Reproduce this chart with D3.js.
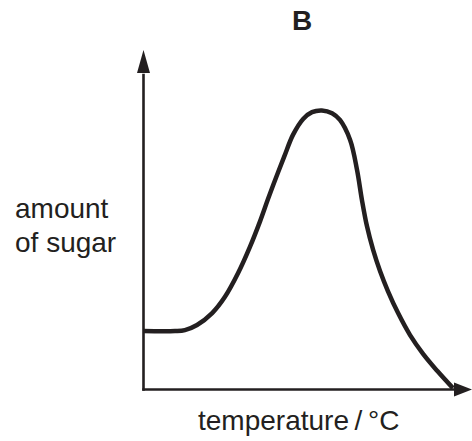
<!DOCTYPE html>
<html>
<head>
<meta charset="utf-8">
<script src="https://cdn.jsdelivr.net/npm/d3@7"></script>
<style>
  html, body { margin: 0; padding: 0; background: #fff; }
  svg { display: block; }
  text { font-family: "Liberation Sans", Arial, sans-serif; fill: #231f20; }
</style>
</head>
<body>
<svg id="chart" width="472" height="441"></svg>
<script>
// Data (arbitrary units)
const temperature = [0, 9.6, 12.6, 16.3, 20.9, 24.8, 28.8, 32.4, 35.5, 37.9, 40.3, 42.8, 45.5, 48.6, 51.3, 54.3, 57.4, 59.8, 62.9, 65.0, 66.5, 68.0, 69.9, 72.0, 74.4, 77.5, 81.1, 85.1, 89.4, 94.2];
const sugar       = [17.2, 17.2, 17.5, 19.0, 22.5, 27.3, 34.3, 42.0, 49.6, 56.1, 62.3, 68.5, 75.0, 79.7, 81.7, 82.2, 81.4, 79.4, 73.5, 64.7, 55.8, 48.2, 41.1, 34.9, 29.0, 22.5, 16.1, 10.5, 5.5, 0.4];
const titleText = "B";
const yLabelLines = ["amount", "of sugar"];
const xLabelText = "temperature\u2009/\u2009°C";

const ink = "#231f20";
const svg = d3.select("#chart");

const x = d3.scaleLinear().domain([0, 100]).range([143.5, 472]);
const y = d3.scaleLinear().domain([0, 100]).range([389.5, 50]);

// axes
svg.append("line")
  .attr("x1", x(0)).attr("x2", x(0))
  .attr("y1", y(0) + 1.2).attr("y2", y(93))
  .attr("stroke", ink).attr("stroke-width", 2.6);
svg.append("line")
  .attr("x1", x(0) - 1.2).attr("x2", x(96))
  .attr("y1", y(0)).attr("y2", y(0))
  .attr("stroke", ink).attr("stroke-width", 2.6);

// arrowheads
const yTip = [x(0), y(100)];
svg.append("path")
  .attr("d", `M${yTip[0]},${yTip[1]} L${yTip[0] + 6.5},${yTip[1] + 23} L${yTip[0] - 6.5},${yTip[1] + 23} Z`)
  .attr("fill", ink);
const xTip = [x(100), y(0)];
svg.append("path")
  .attr("d", `M${xTip[0]},${xTip[1]} L${xTip[0] - 18},${xTip[1] - 7} L${xTip[0] - 18},${xTip[1] + 7} Z`)
  .attr("fill", ink);

// curve
const pts = temperature.map((t, i) => [t, sugar[i]]);
const line = d3.line().x(d => x(d[0])).y(d => y(d[1])).curve(d3.curveCatmullRom.alpha(0.5));
svg.append("path")
  .datum(pts)
  .attr("d", line)
  .attr("fill", "none")
  .attr("stroke", ink)
  .attr("stroke-width", 4.5)
  .attr("stroke-linecap", "butt");

// texts
svg.append("text")
  .attr("x", 302).attr("y", 30)
  .attr("text-anchor", "middle")
  .attr("font-size", 28).attr("font-weight", "bold")
  .text(titleText);

svg.append("text")
  .attr("x", 15).attr("y", 218)
  .attr("font-size", 28)
  .selectAll("tspan").data(yLabelLines).join("tspan")
  .attr("x", 15).attr("dy", (d, i) => i === 0 ? 0 : 34)
  .text(d => d);

svg.append("text")
  .attr("x", 198).attr("y", 430)
  .attr("font-size", 28)
  .text(xLabelText);
</script>
</body>
</html>
